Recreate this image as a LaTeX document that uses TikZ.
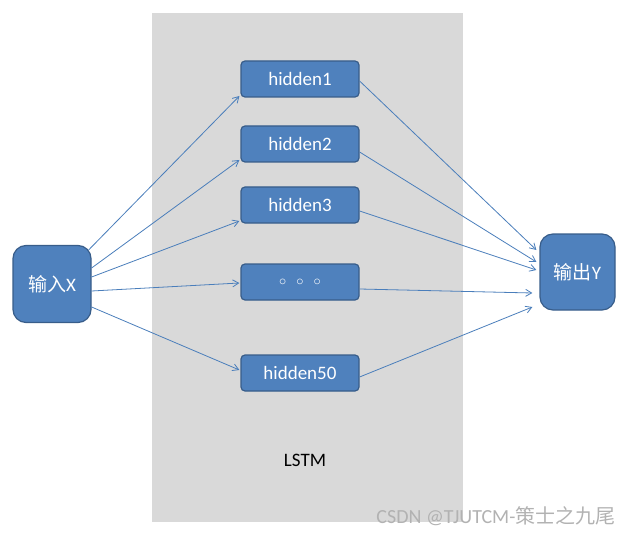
\documentclass[tikz,border=0pt]{standalone}
\usepackage{fontspec}
\setmainfont{Carlito}
\newfontfamily\cjk{Noto Sans CJK SC}
\usetikzlibrary{arrows.meta,calc}
\definecolor{boxfill}{HTML}{4F81BD}
\definecolor{boxline}{HTML}{385D8A}
\definecolor{linkc}{HTML}{4A7EBB}
\definecolor{bggray}{HTML}{D9D9D9}
\tikzset{
  hbox/.style={draw=boxline, line width=1.2pt, fill=boxfill, rounded corners=4pt,
    minimum width=118pt, minimum height=36pt, inner sep=0pt, text=white,
    font=\fontsize{19}{19}\selectfont},
  iobox/.style={draw=boxline, line width=1.2pt, fill=boxfill, rounded corners=13pt,
    inner sep=0pt, text=white, font=\fontsize{19}{19}\selectfont},
  link/.style={draw=linkc, line width=0.8pt, -{Straight Barb[length=6pt,width=7pt]}}
}
\begin{document}
\begin{tikzpicture}[x=1pt,y=-1pt]
\useasboundingbox (0,0) rectangle (633,535);
\fill[bggray] (152,13) rectangle (463,522);
\node[iobox, minimum width=78pt, minimum height=77pt] (inX) at (52,284) {{\cjk 输入}X};
\node[iobox, minimum width=75pt, minimum height=76pt] (outY) at (577.5,272) {{\cjk 输出}Y};
\node[hbox] (h1) at (300,79) {hidden1};
\node[hbox] (h2) at (300,144) {hidden2};
\node[hbox] (h3) at (300,205) {hidden3};
\node[hbox] (hd) at (300,282) {{\fontsize{14}{14}\selectfont$\circ$\hspace{10pt}$\circ$\hspace{10pt}$\circ$}};
\node[hbox] (h50) at (300,373) {hidden50};
\node[font=\fontsize{19}{19}\selectfont, text=black] (lstm) at (305,460) {LSTM};
\node[anchor=east, text=black!30, font=\fontsize{20}{20}\selectfont] (wm) at (619,516) {CSDN @TJUTCM-{\cjk 策士之九尾}};
% input to hidden
\draw[link] ($(inX.east)+(-3,-34)$) -- ($(h1.west)+(-1,17)$);
\draw[link] ($(inX.east)+(0,-16)$) -- ($(h2.west)+(-1,16)$);
\draw[link] ($(inX.east)+(0,-7)$) -- ($(h3.west)+(-1,16)$);
\draw[link] ($(inX.east)+(0,7)$) -- ($(hd.west)+(-1,1)$);
\draw[link] ($(inX.east)+(0,23)$) -- ($(h50.west)+(-1,-3)$);
% hidden to output
\draw[link] ($(h1.east)+(0,2)$) -- ($(outY.west)+(-3,-22)$);
\draw[link] ($(h2.east)+(0,8)$) -- ($(outY.west)+(-3,-10)$);
\draw[link] ($(h3.east)+(0,6)$) -- ($(outY.west)+(-3,-2)$);
\draw[link] ($(hd.east)+(0,7)$) -- ($(outY.west)+(-7,21)$);
\draw[link] ($(h50.east)+(0,4)$) -- ($(outY.west)+(-7,35)$);
\end{tikzpicture}
\end{document}
